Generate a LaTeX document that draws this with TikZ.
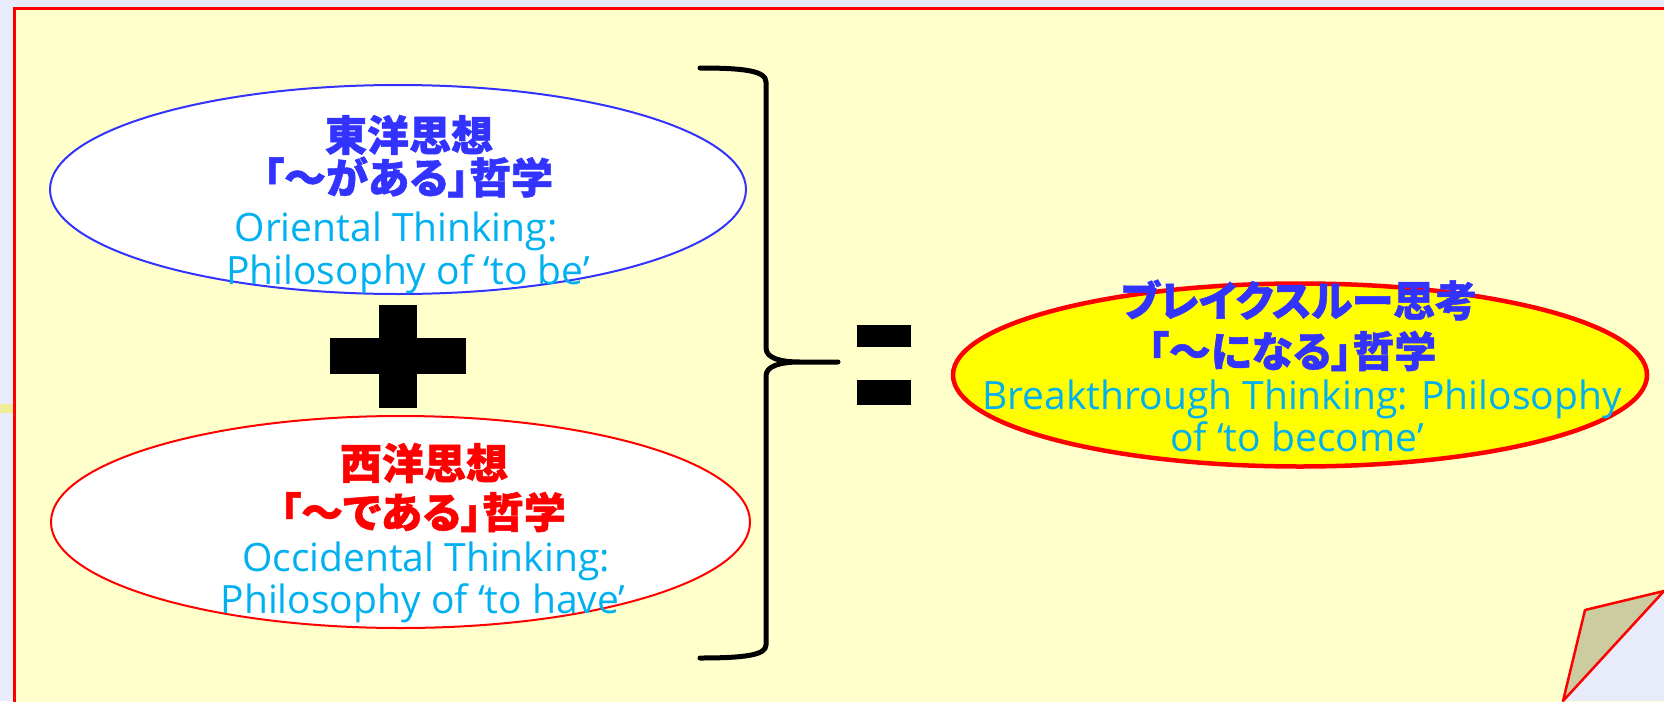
\documentclass[tikz,border=0pt]{standalone}
\usepackage{fontspec}
\setmainfont{Open Sans}
\newfontfamily\jpfont{Noto Sans CJK JP}[RawFeature=+palt, BoldFeatures={FakeBold=1.2}]
\usetikzlibrary{shapes.geometric}
\definecolor{bgout}{HTML}{E8EBFA}
\definecolor{paper}{HTML}{FFFFCC}
\definecolor{jpblue}{HTML}{3333FF}
\definecolor{encyan}{HTML}{00B0F0}
\definecolor{curlc}{HTML}{CCCCA0}
\definecolor{patchc}{HTML}{EEEE99}
\definecolor{ovalyellow}{RGB}{255,255,0}
\definecolor{pured}{RGB}{255,0,0}
\tikzset{
  oval/.style={ellipse, inner sep=0pt, fill=white},
  jptext/.style={font=\jpfont\bfseries\fontsize{42}{46}\selectfont, inner sep=0pt, anchor=center},
  entext/.style={font=\fontsize{39}{44}\selectfont, text=encyan, inner sep=0pt, anchor=base},
  bracepath/.style={line width=5pt, line cap=round, line join=round},
}
\begin{document}
\begin{tikzpicture}[x=1pt,y=-1pt]
\useasboundingbox (0,0) rectangle (1664,701);
\fill[bgout] (0,0) rectangle (1664,701);
\fill[patchc] (0,404) rectangle (13,413);
\begin{scope}
  \clip (0,0) rectangle (1664,701);
  \draw[pured, line width=3pt, fill=paper] (14,8.5) rectangle (1720,760);
  % page curl
  \fill[bgout] (1664,591) -- (1664,701) -- (1563,701) -- cycle;
  \draw[pured, line width=2.5pt, line join=round, fill=curlc] (1585,610) -- (1664,591) -- (1563,701) -- cycle;
\end{scope}

% ellipses
\node[oval, draw=jpblue, line width=2pt, minimum width=696pt, minimum height=209pt] (east) at (398,189.5) {};
\node[oval, draw=pured, line width=2pt, minimum width=699pt, minimum height=212pt] (west) at (400.5,522) {};
\node[oval, fill=ovalyellow, draw=pured, line width=4.5pt, minimum width=694pt, minimum height=183pt] (brk) at (1300,375) {};

% texts: east
\node[jptext, text=jpblue] (eastA) at (409,135) {東洋思想};
\node[jptext, text=jpblue] (eastB) at (408,177) {「～がある」哲学};
\node[entext] (eastC) at (396,241) {Oriental Thinking:};
\node[entext] (eastD) at (408,284) {Philosophy of ‘to be’};

% texts: west
\node[jptext, text=pured] (westA) at (424,463) {西洋思想};
\node[jptext, text=pured] (westB) at (423,512) {「～である」哲学};
\node[entext] (westC) at (426,571) {Occidental Thinking:};
\node[entext] (westD) at (423,613) {Philosophy of ‘to have’};

% texts: breakthrough
\node[jptext, text=jpblue] (brkA) at (1299,300) {ブレイクスルー思考};
\node[jptext, text=jpblue] (brkB) at (1292,351) {「～になる」哲学};
\node[entext] (brkC) at (1302,409) {Breakthrough Thinking: Philosophy};
\node[entext] (brkD) at (1297,451) {of ‘to become’};

% plus
\fill[black] (379,305) rectangle (417,408);
\fill[black] (330,338) rectangle (466,374);

% equals
\fill[black] (857,325) rectangle (911,347);
\fill[black] (857,380) rectangle (911,405);

% brace
\draw[bracepath] (700,68) .. controls (745,68) and (766,71) .. (766,82)
  -- (766,348) .. controls (766,358) and (780,362) .. (800,362) -- (838,362)
  -- (800,362) .. controls (780,362) and (766,366) .. (766,376)
  -- (766,645) .. controls (766,655) and (745,658) .. (700,658);
\end{tikzpicture}
\end{document}
